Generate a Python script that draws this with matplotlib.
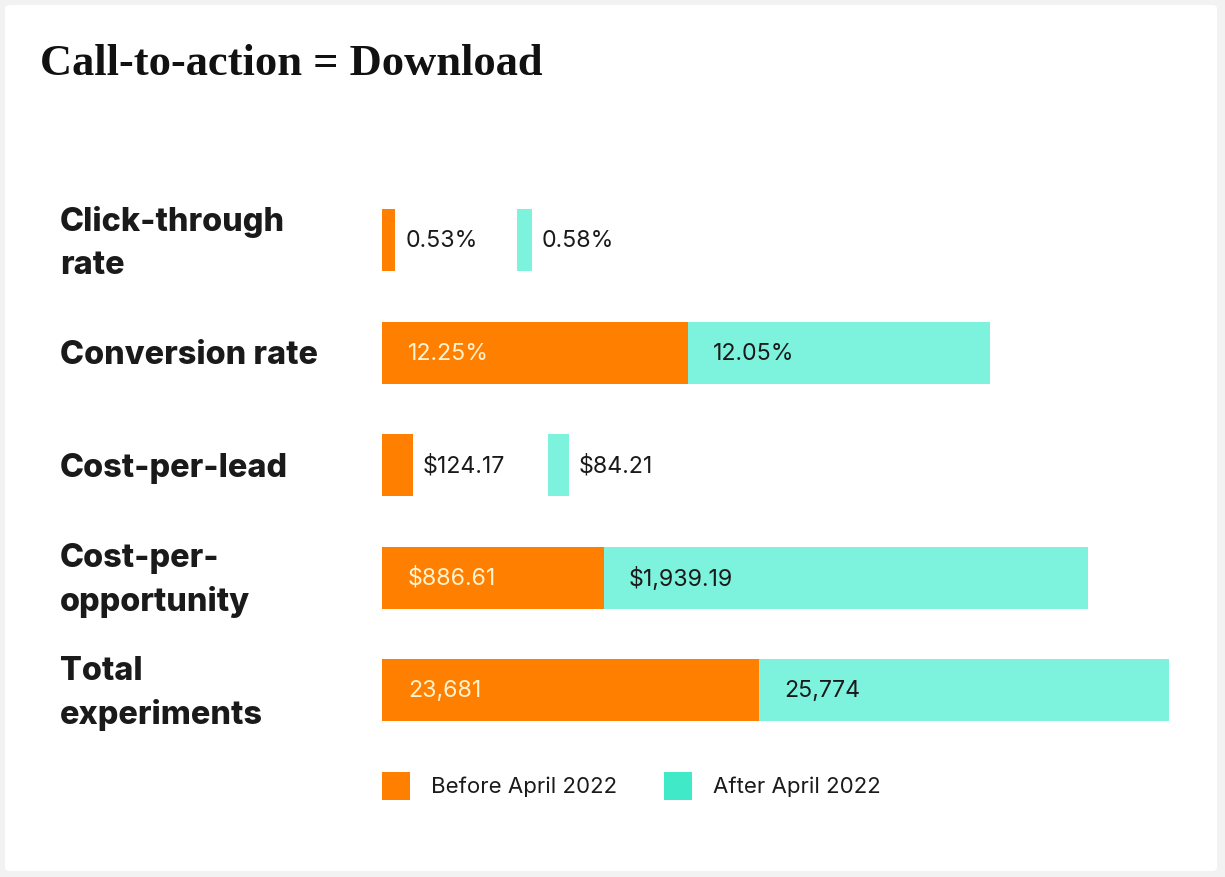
import matplotlib
matplotlib.use("Agg")
import matplotlib.pyplot as plt
from matplotlib.patches import Rectangle, FancyBboxPatch
from matplotlib.transforms import blended_transform_factory, Affine2D
from matplotlib import font_manager as fm

# ---- data ----
categories = ["Click-through\nrate", "Conversion rate", "Cost-per-lead",
              "Cost-per-\nopportunity", "Total\nexperiments"]
before_vals = [0.53, 12.25, 124.17, 886.61, 23681]
after_vals = [0.58, 12.05, 84.21, 1939.19, 25774]
before_labels = ["0.53%", "12.25%", "$124.17", "$886.61", "23,681"]
after_labels = ["0.58%", "12.05%", "$84.21", "$1,939.19", "25,774"]
series_names = ["Before April 2022", "After April 2022"]
title = "Call-to-action = Download"

# ---- style ----
W, H = 1225, 878
ORANGE = "#ff7f00"
TEAL = "#7df3dd"
TEAL_LEG = "#40e9c8"
CREAM = "#fff3d0"
DARK = "#1a1a1a"
row_scale = [25.0, 25.0, 0.25, 0.25, 787 / (23681 + 25774)]  # px per unit, per row
stacked = [False, True, False, True, True]
sep_gap = [122, 0, 135, 0, 0]  # px between separated bars

inter_weights = {f.weight for f in fm.fontManager.ttflist if f.name == "Inter"}
cat_weight = 800 if any(isinstance(w, int) and w >= 800 for w in inter_weights) else "bold"

fig = plt.figure(figsize=(W / 100, H / 100), dpi=100)
fig.patch.set_facecolor("#f2f2f2")

# card
card = FancyBboxPatch((5 / W, 6 / H), 1212 / W, 866 / H,
                      boxstyle="round,pad=0,rounding_size=0.004",
                      transform=fig.transFigure, facecolor="white",
                      edgecolor="none", zorder=-10)
fig.patches.append(card)

# axes: x in px units from 382 to 1169, rows centered at 241..691
x0, x1 = 382, 1169
row_top, row_bot = 241 - 56.25, 691 + 56.25
ax = fig.add_axes([x0 / W, 1 - row_bot / H, (x1 - x0) / W, (row_bot - row_top) / H])
ax.set_xlim(0, x1 - x0)
ax.set_ylim(4.5, -0.5)
ax.axis("off")
ax.patch.set_alpha(0)

bh = 62 / 112.5
val_fs = 16.7
for i in range(len(categories)):
    bw = before_vals[i] * row_scale[i]
    aw = after_vals[i] * row_scale[i]
    ax.barh(i, bw, left=0, height=bh, color=ORANGE, linewidth=0)
    if stacked[i]:
        ax.barh(i, aw, left=bw, height=bh, color=TEAL, linewidth=0)
        ax.text(26, i, before_labels[i], color=CREAM, fontsize=val_fs,
                va="center", ha="left", family="Inter")
        ax.text(bw + 25, i, after_labels[i], color=DARK, fontsize=val_fs,
                va="center", ha="left", family="Inter")
    else:
        a_left = bw + sep_gap[i]
        ax.barh(i, aw, left=a_left, height=bh, color=TEAL, linewidth=0)
        ax.text(bw + 10, i, before_labels[i], color=DARK, fontsize=val_fs,
                va="center", ha="left", family="Inter")
        ax.text(a_left + aw + 10, i, after_labels[i], color=DARK, fontsize=val_fs,
                va="center", ha="left", family="Inter")

# category labels (figure-x px, data-y)
px_x = blended_transform_factory(Affine2D().scale(1 / W, 1) + fig.transFigure, ax.transData)
for i, c in enumerate(categories):
    ax.text(60, i + 0.02, c, transform=px_x, fontsize=23.3, fontweight=cat_weight,
            family="Inter", color=DARK, va="center", ha="left", linespacing=1.48,
            clip_on=False)

# title
fig.text(40 / W, 1 - 64 / H, title, fontsize=32, fontweight="bold",
         family="Liberation Serif", color="#111111", va="center", ha="left")

# legend
leg_y = 787
sq = 28
for x_sq, x_txt, col, name in [(382, 431, ORANGE, series_names[0]),
                               (664, 713, TEAL_LEG, series_names[1])]:
    fig.patches.append(Rectangle((x_sq / W, 1 - (leg_y + sq / 2) / H), sq / W, sq / H,
                                 transform=fig.transFigure, facecolor=col,
                                 edgecolor="none"))
    fig.text(x_txt / W, 1 - leg_y / H, name, fontsize=16, family="Inter",
             color=DARK, va="center", ha="left")

fig.savefig("out.png", dpi=100, facecolor=fig.get_facecolor())
